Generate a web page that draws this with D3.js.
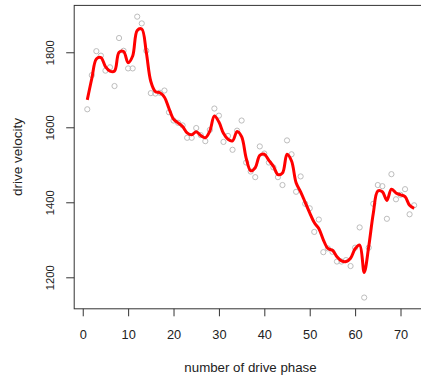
<!DOCTYPE html>
<html>
<head>
<meta charset="utf-8">
<script src="https://cdn.jsdelivr.net/npm/d3@7"></script>
<style>
  html, body { margin: 0; padding: 0; background: #fff; }
  svg { display: block; font-family: "Liberation Sans", Arial, sans-serif; }
</style>
</head>
<body>
<svg id="chart" width="421" height="376"></svg>
<script>
// drive phase index
const phase = d3.range(1, 74);

// measured drive velocity per phase
const velocity = [
  1648, 1739, 1803, 1791, 1751, 1760, 1710, 1838, 1804, 1757,
  1757, 1895, 1877, 1804, 1691, 1690, 1692, 1698, 1640, 1618,
  1612, 1605, 1572, 1572, 1598, 1579, 1563, 1593, 1650, 1631,
  1561, 1577, 1540, 1591, 1618, 1506, 1482, 1467, 1549, 1530,
  1506, 1493, 1467, 1446, 1565, 1528, 1428, 1469, 1396, 1384,
  1321, 1354, 1267, 1277, 1268, 1242, 1242, 1246, 1230, 1279,
  1333, 1146, 1279, 1396, 1446, 1443, 1356, 1475, 1408, 1420,
  1435, 1368, 1392
];

// smoothed velocity curve
const smoothed = [
  1673, 1730, 1782, 1786, 1762, 1750, 1750, 1800, 1802, 1772,
  1790, 1858, 1862, 1800, 1722, 1695, 1692, 1680, 1650, 1622,
  1612, 1602, 1585, 1580, 1588, 1578, 1572, 1590, 1630, 1614,
  1584, 1568, 1564, 1589, 1575, 1518, 1484, 1492, 1525, 1528,
  1512, 1496, 1474, 1478, 1528, 1510, 1452, 1428, 1400, 1372,
  1346, 1330, 1300, 1277, 1272, 1255, 1244, 1242, 1251, 1276,
  1286, 1213, 1282, 1370, 1430, 1428, 1405, 1435, 1425, 1420,
  1415, 1392, 1384
];

const xTicks = [0, 10, 20, 30, 40, 50, 60, 70];
const yTicks = [1200, 1400, 1600, 1800];

const xTitle = "number of drive phase";
const yTitle = "drive velocity";

// plot region
const plotLeft = 74.2, plotRight = 427.2, plotTop = 5.4, plotBottom = 308.8;

const svg = d3.select("#chart");

const x = d3.scaleLinear().domain([-1.88, 75.88]).range([plotLeft, plotRight]);
const y = d3.scaleLinear().domain([1116, 1925]).range([plotBottom, plotTop]);

// frame around the plot region
svg.append("rect")
  .attr("x", plotLeft).attr("y", plotTop)
  .attr("width", plotRight - plotLeft).attr("height", plotBottom - plotTop)
  .attr("fill", "none").attr("stroke", "#333").attr("stroke-width", 1);

// x axis: ticks below the frame
const xAxis = d3.axisBottom(x).tickValues(xTicks).tickFormat(d3.format("d"))
  .tickSize(7.5).tickPadding(14).tickSizeOuter(0);
const gx = svg.append("g").attr("transform", `translate(0,${plotBottom})`).call(xAxis);
gx.select(".domain").remove();
gx.selectAll(".tick line").attr("stroke", "#333");
gx.selectAll(".tick text")
  .attr("font-size", 12.8).attr("fill", "#222")
  .attr("font-family", "Liberation Sans, Arial, sans-serif");

// y axis: rotated tick labels
const yAxis = d3.axisLeft(y).tickValues(yTicks).tickFormat(d3.format("d"))
  .tickSize(8).tickSizeOuter(0);
const gy = svg.append("g").attr("transform", `translate(${plotLeft},0)`).call(yAxis);
gy.select(".domain").remove();
gy.selectAll(".tick line").attr("stroke", "#333");
gy.selectAll(".tick text")
  .attr("x", null).attr("dy", null)
  .attr("transform", "translate(-19.7,0) rotate(-90)")
  .attr("text-anchor", "middle")
  .attr("font-size", 11.3).attr("fill", "#222")
  .attr("font-family", "Liberation Sans, Arial, sans-serif");

// observations
svg.append("g").selectAll("circle")
  .data(phase)
  .join("circle")
  .attr("cx", (d, i) => x(d))
  .attr("cy", (d, i) => y(velocity[i]))
  .attr("r", 2.6)
  .attr("fill", "none")
  .attr("stroke", "#bdbdbd")
  .attr("stroke-width", 1);

// smoothed curve
const line = d3.line()
  .x((d, i) => x(phase[i]))
  .y(d => y(d))
  .curve(d3.curveCatmullRom.alpha(0.5));

svg.append("path")
  .datum(smoothed)
  .attr("d", line)
  .attr("fill", "none")
  .attr("stroke", "#ff0000")
  .attr("stroke-width", 3)
  .attr("stroke-linejoin", "round");

// axis titles
svg.append("text")
  .attr("x", 250.5).attr("y", 372)
  .attr("text-anchor", "middle")
  .attr("font-size", 13.3).attr("fill", "#222")
  .text(xTitle);

svg.append("text")
  .attr("transform", "translate(22,157) rotate(-90)")
  .attr("text-anchor", "middle")
  .attr("font-size", 13.5).attr("fill", "#222")
  .text(yTitle);
</script>
</body>
</html>
